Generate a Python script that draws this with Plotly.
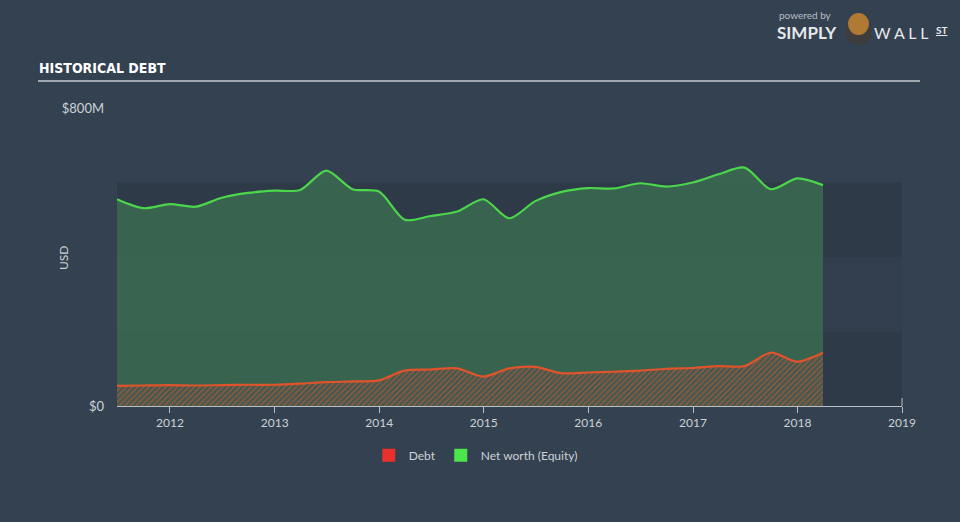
import plotly.graph_objects as go

# ---------------- data (USD millions, quarter ends) ----------------
dates = [
    "2011-06-30", "2011-09-30", "2011-12-31", "2012-03-31", "2012-06-30", "2012-09-30",
    "2012-12-31", "2013-03-31", "2013-06-30", "2013-09-30", "2013-12-31", "2014-03-31",
    "2014-06-30", "2014-09-30", "2014-12-31", "2015-03-31", "2015-06-30", "2015-09-30",
    "2015-12-31", "2016-03-31", "2016-06-30", "2016-09-30", "2016-12-31", "2017-03-31",
    "2017-06-30", "2017-09-30", "2017-12-31", "2018-03-31",
]
net_worth = [555, 531, 542, 535, 559, 572, 578, 580, 632, 582, 576, 500,
             510, 522, 555, 504, 550, 575, 585, 584, 598, 589, 600, 622,
             640, 582, 611, 593]
debt = [54, 55, 56, 55, 56, 57, 57, 60, 64, 66, 69, 95,
        98, 101, 79, 101, 105, 88, 90, 92, 95, 100, 102, 107,
        107, 143, 119, 143]

year_ticks = ["2012-01-01", "2013-01-01", "2014-01-01", "2015-01-01",
              "2016-01-01", "2017-01-01", "2018-01-01", "2019-01-01"]
year_labels = ["2012", "2013", "2014", "2015", "2016", "2017", "2018", "2019"]
y_tickvals = [0, 800]
y_ticklabels = ["$0", "$800M"]

# ---------------- style ----------------
BG = "#344150"
BAND_DARK = "#2e3a48"
BAND_MID = "#323e4d"
GREEN_LINE = "#4cd64c"
GREEN_FILL = "rgba(58,104,80,0.92)"
DEBT_LINE = "#e0532b"
TXT = "#cdd2d8"
FONT = "Lato, 'Open Sans', sans-serif"

fig = go.Figure()

fig.add_trace(go.Scatter(
    x=dates, y=net_worth, mode="lines", line=dict(color=GREEN_LINE, width=2.2, shape="spline", smoothing=0.8),
    fill="tozeroy", fillcolor=GREEN_FILL, showlegend=False, hoverinfo="skip",
))
fig.add_trace(go.Scatter(
    x=dates, y=debt, mode="lines", line=dict(color=DEBT_LINE, width=2.2, shape="spline", smoothing=0.8),
    fill="tozeroy", fillcolor="rgba(0,0,0,0)",
    fillpattern=dict(shape="/", fgcolor="#d25b30", bgcolor="rgba(70,80,80,0.6)", size=4, solidity=0.45),
    showlegend=False, hoverinfo="skip",
))

# legend entries
fig.add_trace(go.Scatter(x=[None], y=[None], mode="markers", name="Debt",
                         marker=dict(symbol="square", size=13, color="#e8302c")))
fig.add_trace(go.Scatter(x=[None], y=[None], mode="markers", name="Net worth (Equity)",
                         marker=dict(symbol="square", size=13, color="#4ce64c")))


def px_x(x):
    return (x - 117) / 785


def px_y(y):
    return (406 - y) / 298


shapes = [
    dict(type="rect", xref="paper", yref="y", x0=0, x1=1, y0=0, y1=200,
         fillcolor=BAND_DARK, line_width=0, layer="below"),
    dict(type="rect", xref="paper", yref="y", x0=0, x1=1, y0=200, y1=400,
         fillcolor=BAND_MID, line_width=0, layer="below"),
    dict(type="rect", xref="paper", yref="y", x0=0, x1=1, y0=400, y1=600,
         fillcolor=BAND_DARK, line_width=0, layer="below"),
    # title underline
    dict(type="line", xref="paper", yref="paper", x0=px_x(38), x1=px_x(920),
         y0=px_y(81), y1=px_y(81), line=dict(color="#a0a6ae", width=2)),
    # right end marker on the axis
    dict(type="line", xref="paper", yref="paper", x0=1, x1=1, y0=0, y1=8 / 298,
         line=dict(color="#b8bec6", width=1)),
    # logo emblem
    dict(type="circle", xref="paper", yref="paper",
         x0=px_x(845), x1=px_x(872), y0=px_y(45), y1=px_y(19),
         fillcolor="#3d3d3d", line_width=0),
    dict(type="circle", xref="paper", yref="paper",
         x0=px_x(848), x1=px_x(869), y0=px_y(35), y1=px_y(13),
         fillcolor="#b07a35", line_width=0),
]

annotations = [
    dict(text="<b>HISTORICAL DEBT</b>", x=px_x(37), y=px_y(68), xref="paper", yref="paper",
         xanchor="left", yanchor="middle", showarrow=False,
         font=dict(family="'DejaVu Sans Condensed', 'Liberation Sans Narrow', sans-serif", size=14,
                   color="#ffffff")),
    dict(text="USD", x=px_x(63), y=px_y(258), xref="paper", yref="paper", textangle=-90,
         xanchor="center", yanchor="middle", showarrow=False, font=dict(family=FONT, size=12, color=TXT)),
    dict(text="powered by", x=px_x(777), y=px_y(15), xref="paper", yref="paper",
         xanchor="left", yanchor="middle", showarrow=False, font=dict(family=FONT, size=10, color="#b8bec6")),
    dict(text="<b>SIMPLY</b>", x=px_x(775), y=px_y(33), xref="paper", yref="paper",
         xanchor="left", yanchor="middle", showarrow=False, font=dict(family=FONT, size=17, color="#e6e8eb")),
    dict(text="W A L L", x=px_x(872), y=px_y(33), xref="paper", yref="paper",
         xanchor="left", yanchor="middle", showarrow=False, font=dict(family=FONT, size=16, color="#e6e8eb")),
    dict(text="<u><b>ST</b></u>", x=px_x(934), y=px_y(30), xref="paper", yref="paper",
         xanchor="left", yanchor="middle", showarrow=False, font=dict(family=FONT, size=10, color="#e6e8eb")),
]

fig.update_layout(
    width=960, height=522,
    margin=dict(l=117, r=58, t=108, b=116),
    paper_bgcolor=BG, plot_bgcolor=BG,
    font=dict(family=FONT, color=TXT, size=12),
    shapes=shapes, annotations=annotations,
    legend=dict(orientation="h", x=0.457, xanchor="center", y=-0.165, yanchor="middle",
                font=dict(family=FONT, size=12, color=TXT), bgcolor="rgba(0,0,0,0)",
                itemwidth=30, tracegroupgap=0),
    xaxis=dict(type="date", range=["2011-06-30", "2019-01-01"], tickvals=year_ticks, ticktext=year_labels,
               showgrid=False, zeroline=False, showline=True, linecolor="#b8bec6", linewidth=1,
               ticks="outside", ticklen=6, tickcolor="#b8bec6", tickfont=dict(size=12, color=TXT)),
    yaxis=dict(range=[0, 800], tickvals=y_tickvals, ticktext=y_ticklabels, showgrid=False,
               zeroline=False, showline=False, ticks="", ticklabelstandoff=12,
               tickfont=dict(size=13, color=TXT)),
)

fig.write_html("out.html")
